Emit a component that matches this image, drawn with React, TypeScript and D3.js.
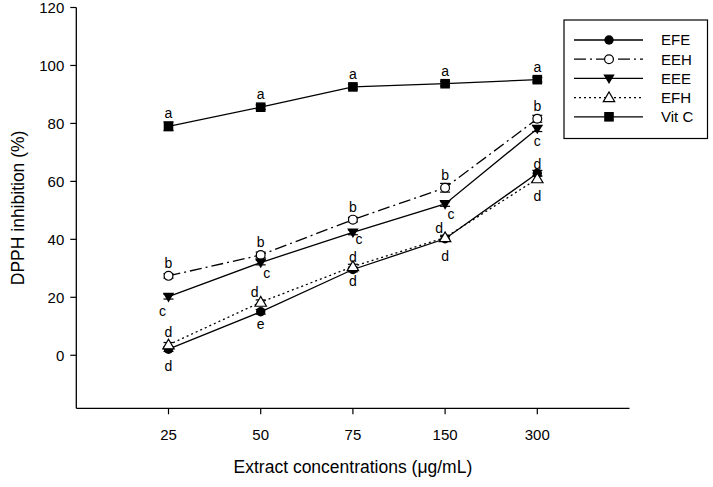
import React from "react";
import * as d3 from "d3";

const categories = ["25", "50", "75", "150", "300"];
const yTicks = [0, 20, 40, 60, 80, 100, 120];

const seriesNames = ["EFE", "EEH", "EEE", "EFH", "Vit C"];
const efe = [2.1, 15.0, 29.6, 40.2, 62.8];
const eeh = [27.4, 34.6, 46.8, 57.8, 81.6];
const eee = [20.2, 32.0, 42.4, 52.2, 78.2];
const efh = [3.6, 18.3, 30.6, 40.6, 60.9];
const vitc = [79.0, 85.6, 92.6, 93.7, 95.1];

const efeErr = [0.8, 0.8, 0.8, 0.8, 1.0];
const eehErr = [0.8, 1.0, 0.8, 1.5, 1.2];
const eeeErr = [0.8, 0.8, 0.8, 0.8, 1.0];
const efhErr = [0.8, 0.8, 0.8, 0.8, 1.0];
const vitcErr = [1.5, 0.8, 0.8, 0.8, 0.8];

const efeLetters = ["d", "e", "d", "d", "d"];
const eehLetters = ["b", "b", "b", "b", "b"];
const eeeLetters = ["c", "c", "c", "c", "c"];
const efhLetters = ["d", "d", "d", "d", "d"];
const vitcLetters = ["a", "a", "a", "a", "a"];

// placement of significance letters relative to point
const efePlace = ["below", "belowNear", "belowNear", "below", "aboveNear"];
const eehPlace = ["above", "above", "above", "above", "above"];
const eeePlace = ["belowLeft", "belowRight", "rightNear", "belowRight", "belowNear"];
const efhPlace = ["above", "aboveLeft", "aboveNear", "aboveLeft", "below"];
const vitcPlace = ["above", "above", "above", "above", "above"];

type Marker = "filledCircle" | "openCircle" | "filledTriangleDown" | "openTriangleUp" | "filledSquare";

const W = 713;
const H = 487;

const x = d3.scaleLinear().domain([0, 6]).range([76.3, 629.5]);
const y = d3.scaleLinear().domain([-18.3, 120]).range([408.3, 7.5]);

function MarkerShape({ type, cx, cy }: { type: Marker; cx: number; cy: number }) {
  switch (type) {
    case "filledCircle":
      return <circle cx={cx} cy={cy} r={4.7} fill="#000" />;
    case "openCircle":
      return <circle cx={cx} cy={cy} r={4.4} fill="#fff" stroke="#000" strokeWidth={1.2} />;
    case "filledTriangleDown":
      return (
        <path
          d={`M${cx - 5.7},${cy - 4} L${cx + 5.7},${cy - 4} L${cx},${cy + 5.7} Z`}
          fill="#000"
        />
      );
    case "openTriangleUp":
      return (
        <path
          d={`M${cx - 5.7},${cy + 4} L${cx + 5.7},${cy + 4} L${cx},${cy - 5.7} Z`}
          fill="#fff"
          stroke="#000"
          strokeWidth={1.2}
        />
      );
    case "filledSquare":
      return <rect x={cx - 4.8} y={cy - 4.8} width={9.6} height={9.6} fill="#000" />;
  }
}

const series = [
  { name: seriesNames[0], values: efe, err: efeErr, letters: efeLetters, place: efePlace, marker: "filledCircle" as Marker, dash: "" },
  { name: seriesNames[1], values: eeh, err: eehErr, letters: eehLetters, place: eehPlace, marker: "openCircle" as Marker, dash: "12,4,2,4" },
  { name: seriesNames[2], values: eee, err: eeeErr, letters: eeeLetters, place: eeePlace, marker: "filledTriangleDown" as Marker, dash: "" },
  { name: seriesNames[3], values: efh, err: efhErr, letters: efhLetters, place: efhPlace, marker: "openTriangleUp" as Marker, dash: "2,3" },
  { name: seriesNames[4], values: vitc, err: vitcErr, letters: vitcLetters, place: vitcPlace, marker: "filledSquare" as Marker, dash: "" },
];

function letterPos(place: string, cx: number, cy: number): [number, number] {
  switch (place) {
    case "above":
      return [cx, cy - 8];
    case "aboveNear":
      return [cx, cy - 4.5];
    case "below":
      return [cx, cy + 22];
    case "belowNear":
      return [cx, cy + 17];
    case "belowLeft":
      return [cx - 6, cy + 19];
    case "belowRight":
      return [cx + 6, cy + 15];
    case "rightNear":
      return [cx + 6, cy + 12];
    case "aboveLeft":
      return [cx - 6, cy - 5];
    default:
      return [cx, cy];
  }
}

export default function App() {
  const line = d3
    .line<number>()
    .x((_, i) => x(i + 1))
    .y((d) => y(d));

  const font = "'Liberation Sans', Arial, sans-serif";

  return (
    <svg
      width={W}
      height={H}
      style={{ position: "absolute", left: 0, top: 0, display: "block", background: "#fff" }}
      fontFamily={font}
    >
      <rect width={W} height={H} fill="#fff" />
      {/* axes */}
      <line x1={x(0)} x2={x(0)} y1={y(120)} y2={y(-18.3)} stroke="#000" strokeWidth={1.3} />
      <line x1={x(0)} x2={x(6)} y1={y(-18.3)} y2={y(-18.3)} stroke="#000" strokeWidth={1.3} />
      {yTicks.map((t) => (
        <g key={t}>
          <line x1={x(0) - 6} x2={x(0)} y1={y(t)} y2={y(t)} stroke="#000" strokeWidth={1.2} />
          <text x={x(0) - 12} y={y(t)} dy="0.36em" textAnchor="end" fontSize={15}>
            {t}
          </text>
        </g>
      ))}
      {categories.map((c, i) => (
        <g key={c}>
          <line x1={x(i + 1)} x2={x(i + 1)} y1={y(-18.3)} y2={y(-18.3) + 6} stroke="#000" strokeWidth={1.2} />
          <text x={x(i + 1)} y={y(-18.3) + 32} textAnchor="middle" fontSize={15}>
            {c}
          </text>
        </g>
      ))}
      <text x={(x(0) + x(6)) / 2} y={473} textAnchor="middle" fontSize={17.5}>
        Extract concentrations (μg/mL)
      </text>
      <text
        transform={`translate(24, ${(y(120) + y(-18.3)) / 2}) rotate(-90)`}
        textAnchor="middle"
        fontSize={17.5}
      >
        DPPH inhibition (%)
      </text>

      {/* series */}
      {series.map((s) => (
        <g key={s.name}>
          <path d={line(s.values) || ""} fill="none" stroke="#000" strokeWidth={1.3} strokeDasharray={s.dash || undefined} />
          {s.values.map((v, i) => {
            const cx = x(i + 1);
            const y1 = y(v + s.err[i]);
            const y2 = y(v - s.err[i]);
            return (
              <g key={i}>
                <line x1={cx} x2={cx} y1={y1} y2={y2} stroke="#000" strokeWidth={1.2} />
                <line x1={cx - 5} x2={cx + 5} y1={y1} y2={y1} stroke="#000" strokeWidth={1.2} />
                <line x1={cx - 5} x2={cx + 5} y1={y2} y2={y2} stroke="#000" strokeWidth={1.2} />
                <MarkerShape type={s.marker} cx={cx} cy={y(v)} />
              </g>
            );
          })}
          {s.values.map((v, i) => {
            const [lx, ly] = letterPos(s.place[i], x(i + 1), y(v));
            return (
              <text key={"l" + i} x={lx} y={ly} textAnchor="middle" fontSize={14}>
                {s.letters[i]}
              </text>
            );
          })}
        </g>
      ))}

      {/* legend */}
      <rect x={564} y={20} width={143.5} height={118.5} fill="#fff" stroke="#000" strokeWidth={1.2} />
      {series.map((s, i) => {
        const ly = 40 + i * 19.2;
        return (
          <g key={"leg" + s.name}>
            <line x1={574} x2={643} y1={ly} y2={ly} stroke="#000" strokeWidth={1.3} strokeDasharray={s.dash || undefined} />
            <MarkerShape type={s.marker} cx={609} cy={ly} />
            <text x={661} y={ly} dy="0.36em" fontSize={15}>
              {s.name}
            </text>
          </g>
        );
      })}
    </svg>
  );
}
